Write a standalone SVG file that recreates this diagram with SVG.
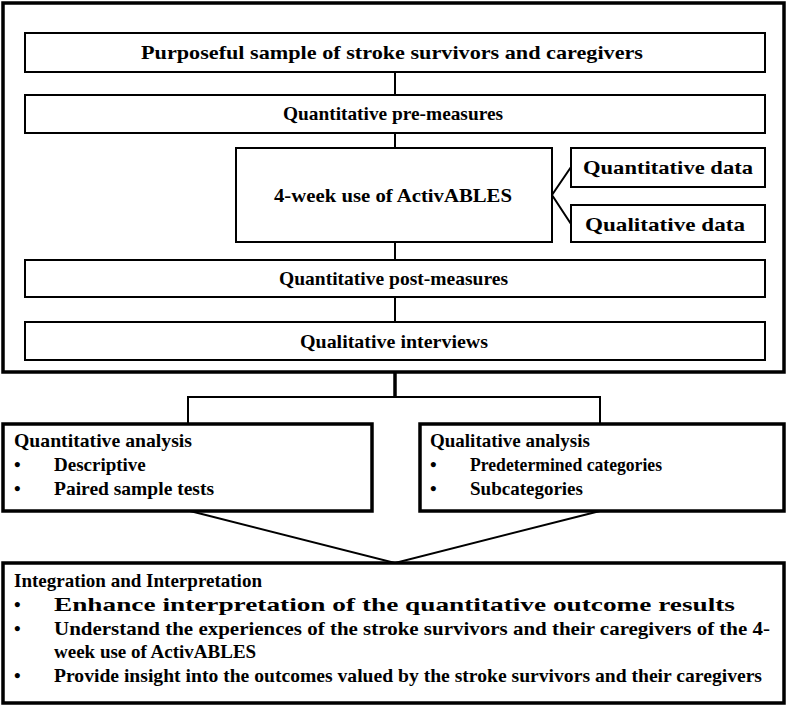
<svg xmlns="http://www.w3.org/2000/svg" width="787" height="706" viewBox="0 0 787 706">
<style>
.b{fill:#fff;stroke:#000;stroke-width:2}
.t{fill:none;stroke:#000;stroke-width:3.5}
.c{fill:none;stroke:#000;stroke-width:2}
text{font-family:"Liberation Serif","Times New Roman",serif;font-size:19px;font-weight:bold;fill:#000}
.m{text-anchor:middle}
</style>
<rect width="787" height="706" fill="#fff"/>
<g id="connectors">
<line class="c" x1="395" y1="72" x2="395" y2="95"/>
<line class="c" x1="395" y1="133" x2="395" y2="148"/>
<line class="c" x1="395" y1="242" x2="395" y2="260"/>
<line class="c" x1="395" y1="297" x2="395" y2="322"/>
<polyline class="c" points="571,167 552,195 571,224"/>
<line class="t" x1="395" y1="372" x2="395" y2="397"/>
<polyline class="c" points="188,424 188,397 600,397 600,424"/>
<polyline class="c" points="190,511 395,563 600,511"/>
</g>
<g id="outer"><rect class="t" x="3" y="3" width="781" height="369"/></g>
<g id="n1"><rect class="b" x="25" y="33" width="740" height="39"/><text x="141" y="59" textLength="502" lengthAdjust="spacingAndGlyphs">Purposeful sample of stroke survivors and caregivers</text></g>
<g id="n2"><rect class="b" x="25" y="95" width="740" height="38"/><text x="283" y="120" textLength="220" lengthAdjust="spacingAndGlyphs">Quantitative pre-measures</text></g>
<g id="n3"><rect class="b" x="236" y="148" width="316" height="94"/><text x="274" y="202" textLength="238" lengthAdjust="spacingAndGlyphs">4-week use of ActivABLES</text></g>
<g id="n4"><rect class="b" x="571" y="148" width="194" height="39"/><text x="583" y="174" textLength="170" lengthAdjust="spacingAndGlyphs">Quantitative data</text></g>
<g id="n5"><rect class="b" x="571" y="205" width="194" height="37"/><text x="585" y="231" textLength="160" lengthAdjust="spacingAndGlyphs">Qualitative data</text></g>
<g id="n6"><rect class="b" x="25" y="260" width="740" height="37"/><text x="279" y="285" textLength="229" lengthAdjust="spacingAndGlyphs">Quantitative post-measures</text></g>
<g id="n7"><rect class="b" x="25" y="322" width="740" height="38"/><text x="300" y="348" textLength="188" lengthAdjust="spacingAndGlyphs">Qualitative interviews</text></g>
<g id="n8"><rect class="t" x="3" y="424" width="369" height="87"/>
<text x="14" y="447" textLength="178" lengthAdjust="spacingAndGlyphs">Quantitative analysis</text><text x="14" y="471">•</text><text x="54" y="471">Descriptive</text><text x="14" y="495">•</text><text x="54" y="495" textLength="160" lengthAdjust="spacingAndGlyphs">Paired sample tests</text></g>
<g id="n9"><rect class="t" x="420" y="424" width="364" height="87"/>
<text x="430" y="447">Qualitative analysis</text><text x="430" y="471">•</text><text x="470" y="471" textLength="192" lengthAdjust="spacingAndGlyphs">Predetermined categories</text><text x="430" y="495">•</text><text x="470" y="495">Subcategories</text></g>
<g id="n10"><rect class="t" x="3" y="563" width="781" height="140"/>
<text x="14" y="587" textLength="248" lengthAdjust="spacingAndGlyphs">Integration and Interpretation</text>
<text x="14" y="611">•</text><text x="54" y="611" textLength="681" lengthAdjust="spacingAndGlyphs">Enhance interpretation of the quantitative outcome results</text>
<text x="14" y="635">•</text><text x="54" y="635" textLength="716" lengthAdjust="spacingAndGlyphs">Understand the experiences of the stroke survivors and their caregivers of the 4-</text>
<text x="54" y="658">week use of ActivABLES</text>
<text x="14" y="682">•</text><text x="54" y="682" textLength="708" lengthAdjust="spacingAndGlyphs">Provide insight into the outcomes valued by the stroke survivors and their caregivers</text></g>
</svg>
